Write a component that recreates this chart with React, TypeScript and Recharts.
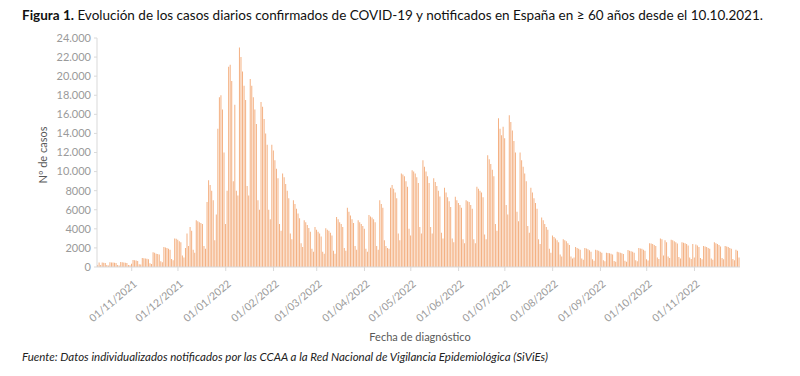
import { BarChart, Bar, XAxis, YAxis } from 'recharts';

// casos diarios por mes (índice = día del mes; oct 2021 empieza el día 10)
const oct2021 = [200, 480, 220, 470, 450, 420, 200, 170, 500, 480, 460, 440, 410, 200, 170, 520, 500, 480, 450, 420, 210, 180];
const nov2021 = [350, 730, 700, 680, 640, 300, 250, 950, 920, 900, 860, 800, 380, 320, 1550, 1500, 1400, 1350, 1300, 600, 500, 2100, 2050, 2000, 1900, 1800, 850, 700, 3000, 2950];
const dec2021 = [2850, 2700, 2600, 1200, 1000, 2000, 3500, 2200, 4200, 3800, 1800, 1500, 4900, 4800, 4700, 4600, 4500, 2200, 1900, 6800, 9100, 8600, 8000, 7000, 2800, 5500, 14500, 17800, 18000, 16500, 12000];
const jan2022 = [4500, 8000, 21000, 21200, 19500, 9000, 17000, 8000, 7500, 23000, 22000, 20500, 19000, 17500, 8500, 7500, 19700, 19000, 17800, 16500, 15000, 7000, 6000, 17300, 16800, 15500, 14000, 12800, 6000, 5000, 12800];
const feb2022 = [12200, 11200, 10300, 9300, 4500, 3800, 9800, 9400, 8700, 8000, 7200, 3500, 2900, 7000, 6600, 6100, 5600, 5100, 2500, 2100, 4900, 4700, 4400, 4100, 3700, 1900, 1600, 4200];
const mar2022 = [3900, 3700, 3500, 3200, 1600, 1400, 4050, 3900, 3800, 3600, 3300, 1700, 1400, 5250, 5000, 4700, 4500, 4200, 2000, 1700, 6200, 5800, 5400, 5000, 4600, 2200, 1800, 4900, 4700, 4500, 4300];
const apr2022 = [4000, 1900, 1600, 5450, 5300, 5200, 5000, 4700, 2200, 1800, 7000, 6600, 6200, 2800, 2200, 2000, 1900, 8300, 8600, 8200, 7800, 7200, 3500, 2800, 9800, 9700, 9500, 9000, 8400, 4000];
const may2022 = [3300, 10150, 10000, 9800, 9400, 8800, 4200, 3500, 11200, 10500, 10000, 9500, 8800, 4200, 3500, 9300, 8900, 8500, 8000, 7400, 3600, 3000, 8300, 7800, 7300, 6900, 6300, 3000, 2600, 7350, 7000];
const jun2022 = [6700, 6500, 6200, 2900, 2500, 7000, 6900, 6800, 6500, 6100, 2900, 2500, 8400, 8200, 8000, 7800, 7300, 3400, 2900, 11700, 11300, 10800, 10200, 9500, 4500, 3800, 15600, 14500, 13800, 14700];
const jul2022 = [13500, 6500, 5500, 15900, 15200, 14300, 13200, 12000, 5800, 4800, 12000, 11200, 10500, 9800, 9000, 4300, 3600, 8300, 7800, 7200, 6700, 6100, 2900, 2400, 5200, 4900, 4500, 4200, 3900, 1900, 1500];
const aug2022 = [3300, 3150, 3000, 2800, 2600, 1300, 1100, 2900, 2800, 2700, 2500, 2300, 1100, 900, 1000, 2100, 2000, 1900, 1800, 900, 750, 2000, 1950, 1850, 1750, 1600, 800, 650, 1800, 1750, 1700];
const sep2022 = [1600, 1500, 720, 600, 1500, 1480, 1450, 1400, 1300, 640, 540, 1600, 1550, 1500, 1450, 1350, 660, 560, 1780, 1700, 1650, 1600, 1500, 720, 600, 2000, 1950, 1900, 1800, 1700];
const oct2022 = [820, 680, 2500, 2450, 2400, 2300, 2200, 1000, 850, 3000, 2900, 1200, 2800, 2600, 1100, 950, 2850, 2800, 2700, 2600, 2450, 1050, 900, 2600, 2550, 2500, 2400, 2250, 1000, 850, 2400];
const nov2022 = [1000, 2350, 2250, 2100, 950, 800, 2200, 2150, 2100, 2000, 1900, 900, 750, 2600, 2500, 2400, 2300, 2150, 950, 800, 2200, 2150, 2100, 2000, 1900, 850, 700, 1800, 1700, 1000];

const months = [
  { month: '10/2021', firstDay: 10, values: oct2021 },
  { month: '11/2021', firstDay: 1, values: nov2021 },
  { month: '12/2021', firstDay: 1, values: dec2021 },
  { month: '01/2022', firstDay: 1, values: jan2022 },
  { month: '02/2022', firstDay: 1, values: feb2022 },
  { month: '03/2022', firstDay: 1, values: mar2022 },
  { month: '04/2022', firstDay: 1, values: apr2022 },
  { month: '05/2022', firstDay: 1, values: may2022 },
  { month: '06/2022', firstDay: 1, values: jun2022 },
  { month: '07/2022', firstDay: 1, values: jul2022 },
  { month: '08/2022', firstDay: 1, values: aug2022 },
  { month: '09/2022', firstDay: 1, values: sep2022 },
  { month: '10/2022', firstDay: 1, values: oct2022 },
  { month: '11/2022', firstDay: 1, values: nov2022 },
];

const monthTicks = [
  '01/11/2021', '01/12/2021', '01/01/2022', '01/02/2022', '01/03/2022', '01/04/2022',
  '01/05/2022', '01/06/2022', '01/07/2022', '01/08/2022', '01/09/2022', '01/10/2022', '01/11/2022',
];

const yTicks = [0, 2000, 4000, 6000, 8000, 10000, 12000, 14000, 16000, 18000, 20000, 22000, 24000];

const data = months.flatMap(({ month, firstDay, values }) =>
  values.map((casos, i) => ({
    date: `${String(firstDay + i).padStart(2, '0')}/${month}`,
    casos,
  })),
);

const FONT = 'Lato, "Open Sans", sans-serif';
const TICK_COLOR = '#9a9a9a';
const AXIS_COLOR = '#d9d9d9';

const formatY = (v: number) =>
  v >= 10000 ? `${Math.floor(v / 1000)}.${String(v % 1000).padStart(3, '0')}` : String(v);

const DateTick = ({ x, y, payload }: any) => (
  <g transform={`translate(${x + 6},${y + 12})`}>
    <text textAnchor="end" transform="rotate(-40)" fontSize={10.5} fill={TICK_COLOR} fontFamily={FONT}>
      {payload.value}
    </text>
  </g>
);

export default function App() {
  return (
    <div style={{ position: 'absolute', left: 0, top: 0, width: 800, height: 376, background: '#fff', fontFamily: FONT }}>
      <div style={{ position: 'absolute', left: 22, top: 7, fontSize: 13.5, color: '#111', whiteSpace: 'nowrap' }}>
        <b>Figura 1.</b> Evolución de los casos diarios confirmados de COVID-19 y notificados en España en ≥ 60 años desde el 10.10.2021.
      </div>
      <BarChart
        width={800}
        height={376}
        data={data}
        margin={{ top: 38, right: 60, bottom: 49, left: 0 }}
        barCategoryGap="5%"
      >
        <XAxis
          dataKey="date"
          ticks={monthTicks}
          interval={0}
          height={60}
          tick={<DateTick />}
          tickSize={4}
          axisLine={{ stroke: AXIS_COLOR }}
          tickLine={{ stroke: AXIS_COLOR }}
        />
        <YAxis
          width={97}
          domain={[0, 24000]}
          ticks={yTicks}
          interval={0}
          tickFormatter={formatY}
          tickSize={3}
          tickMargin={3}
          tick={{ fontSize: 11, fill: TICK_COLOR, fontFamily: FONT }}
          axisLine={{ stroke: AXIS_COLOR }}
          tickLine={{ stroke: AXIS_COLOR }}
        />
        <Bar dataKey="casos" fill="#f4b183" isAnimationActive={false} />
      </BarChart>
      <div
        style={{
          position: 'absolute',
          left: 42,
          top: 155,
          transform: 'translate(-50%, -50%) rotate(-90deg)',
          fontSize: 11,
          color: '#595959',
          whiteSpace: 'nowrap',
        }}
      >
        Nº de casos
      </div>
      <div style={{ position: 'absolute', left: 420, top: 336, transform: 'translate(-50%, -50%)', fontSize: 11, color: '#595959', whiteSpace: 'nowrap' }}>
        Fecha de diagnóstico
      </div>
      <div style={{ position: 'absolute', left: 22, top: 350, fontSize: 11.5, fontStyle: 'italic', color: '#222', whiteSpace: 'nowrap' }}>
        Fuente: Datos individualizados notificados por las CCAA a la Red Nacional de Vigilancia Epidemiológica (SiViEs)
      </div>
    </div>
  );
}
